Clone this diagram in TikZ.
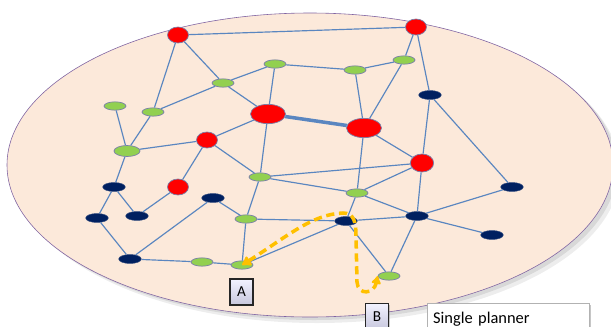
\documentclass[tikz,border=0pt]{standalone}
\usepackage{fontspec}
\setsansfont{Carlito}
\usepackage{tikz}
\usetikzlibrary{shapes.geometric, arrows.meta, shadows}
\definecolor{planefill}{HTML}{FCE9DA}
\definecolor{planeedge}{HTML}{8064A2}
\definecolor{hubred}{HTML}{FF0000}
\definecolor{agentgreen}{HTML}{92D050}
\definecolor{stationnavy}{HTML}{002060}
\definecolor{nodeedge}{HTML}{7A7FA8}
\definecolor{linkblue}{HTML}{5A86C0}
\definecolor{routeorange}{HTML}{FFC000}

\begin{document}
\begin{tikzpicture}[x=0.03cm, y=-0.03cm,
    hub/.style={
        ellipse,
        draw=nodeedge,
        line width=0.6pt,
        fill=hubred,
        minimum width=0.63cm,
        minimum height=0.48cm,
        inner sep=0pt
    },
    bighub/.style={hub, minimum width=1.05cm, minimum height=0.58cm},
    agent/.style={
        ellipse,
        draw=nodeedge,
        line width=0.6pt,
        fill=agentgreen,
        minimum width=0.66cm,
        minimum height=0.25cm,
        inner sep=0pt
    },
    station/.style={
        ellipse,
        draw=stationnavy!80!white,
        line width=0.4pt,
        fill=stationnavy,
        minimum width=0.68cm,
        minimum height=0.27cm,
        inner sep=0pt
    },
    netline/.style={draw=linkblue, line width=1pt},
    labelbox/.style={
        draw=black!85,
        line width=0.9pt,
        top color=blue!5,
        bottom color=blue!25!gray!35,
        font=\sffamily\fontsize{13}{15}\selectfont,
        minimum width=0.69cm,
        minimum height=0.78cm,
        inner sep=0pt,
        drop shadow={shadow xshift=1.2pt, shadow yshift=-1.2pt, opacity=0.4}
    },
    route/.style={
        draw=routeorange,
        line width=3pt,
        dash pattern=on 7pt off 4pt
    }
]
\useasboundingbox (0,0) rectangle (611,326);

% The plane, with a soft shadow
\fill[black, opacity=0.07] (317,171) ellipse [x radius=303, y radius=152];
\fill[black, opacity=0.09] (314,168) ellipse [x radius=303, y radius=152];
\filldraw[fill=planefill, draw=planeedge, line width=0.5pt] (310,165) ellipse [x radius=303, y radius=152];

% Red hubs
\node[hub] (R1) at (178,35) {};
\node[hub] (R2) at (416,27) {};
\node[bighub] (R3) at (268,114) {};
\node[bighub] (R4) at (364,128) {};
\node[hub] (R5) at (207,140) {};
\node[hub, minimum width=0.7cm, minimum height=0.54cm] (R6) at (422,163) {};
\node[hub] (R7) at (178,187) {};

% Green agents
\node[agent] (G1) at (275,64) {};
\node[agent] (G2) at (223,83) {};
\node[agent] (G3) at (355,70) {};
\node[agent] (G4) at (404,60) {};
\node[agent] (G5) at (115,106) {};
\node[agent] (G6) at (153,112) {};
\node[agent, minimum width=0.78cm, minimum height=0.33cm] (G7) at (127,151) {};
\node[agent] (G8) at (260,177) {};
\node[agent] (G9) at (357,193) {};
\node[agent] (G10) at (246,219) {};
\node[agent] (G11) at (202,262) {};
\node[agent] (G12) at (242,265) {};
\node[agent] (G13) at (389,276) {};

% Navy stations
\node[station] (N1) at (430,95) {};
\node[station] (N2) at (114,187) {};
\node[station] (N3) at (97,218) {};
\node[station] (N4) at (137,216) {};
\node[station] (N5) at (213,198) {};
\node[station] (N6) at (130,259) {};
\node[station] (N7) at (346,221) {};
\node[station] (N8) at (417,216) {};
\node[station] (N9) at (512,187) {};
\node[station] (N10) at (492,235) {};

% Links
\draw[netline] (R1) -- (R2) (R1) -- (G6) (R1) -- (G2) (G2) -- (G1) (G2) -- (G6)
    (G2) -- (R3) (G1) -- (R3) (G1) -- (G3) (G3) -- (G4) (G3) -- (R4)
    (G4) -- (R4) (G4) -- (R2) (R2) -- (N1) (N1) -- (R6) (N1) -- (N9);
\draw[netline] (R3) -- (R5) (R3) -- (G8) (R5) -- (G7) (R5) -- (R7) (R5) -- (G8)
    (G5) -- (G7) (G6) -- (G7) (G7) -- (N2) (N2) -- (N3) (N2) -- (N4)
    (N3) -- (N6) (N4) -- (R7) (N6) -- (N5) (N6) -- (G11) (G11) -- (G12);
\draw[netline] (N5) -- (G10) (G10) -- (G8) (G10) -- (G12) (G10) -- (N7) (G12) -- (N7)
    (G8) -- (R6) (G8) -- (G9) (G9) -- (N8) (R4) -- (G9) (R4) -- (R6)
    (R6) -- (G9) (R6) -- (N8) (G9) -- (N7) (N7) -- (N8) (N8) -- (N9)
    (N8) -- (N10) (N8) -- (G13) (N7) -- (G13);
\draw[netline, line width=3pt] (R3) -- (R4);

% Planned routes from A and B
\draw[route, {Latex[round,length=9pt,width=11pt]}-{Latex[round,length=8pt,width=10pt]}]
    (G12.center) .. controls (285,238) and (312,214) .. (343,213)
    .. controls (354,213) and (356,222) .. (356,236)
    -- (357,282) .. controls (358,296) and (374,294) .. (G13.west);

% Markers and caption
\node[labelbox] (A) at (241.5,292) {A};
\node[labelbox, anchor=north] (B) at (377,303) {B};
\node[draw=black!30, fill=white, line width=0.6pt, anchor=north west,
    font=\sffamily\fontsize{14}{16}\selectfont,
    text width=4.5cm, align=left, inner xsep=5pt, inner ysep=7pt,
    text height=10pt, text depth=3pt,
    drop shadow={shadow xshift=2pt, shadow yshift=-1pt, opacity=0.45}] (plan) at (427,303) {Single planner};

\end{tikzpicture}
\end{document}
